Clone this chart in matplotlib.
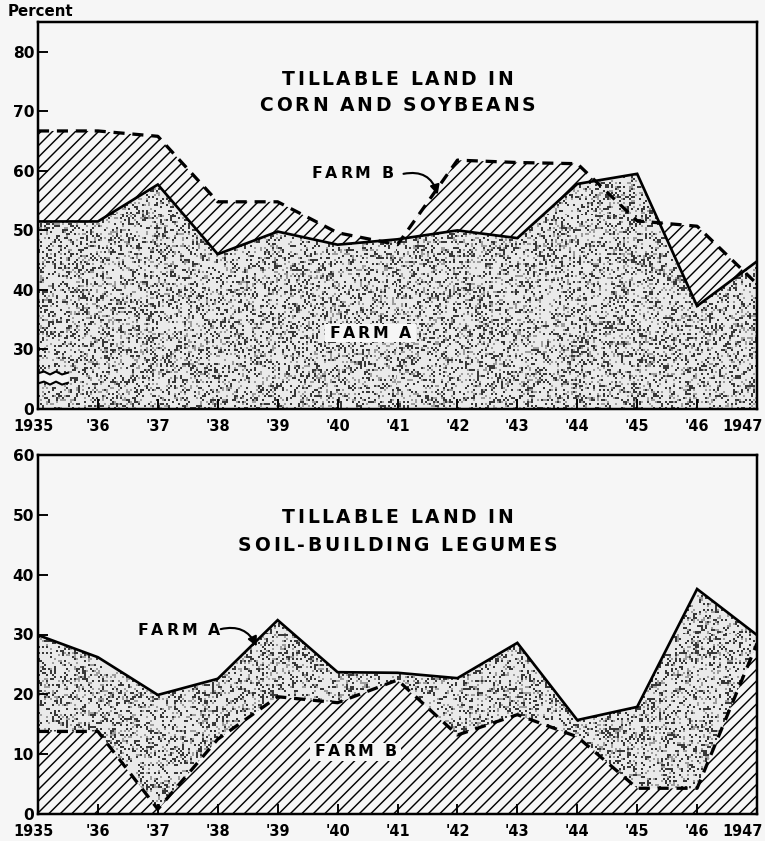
import numpy as np
import matplotlib
matplotlib.use("Agg")
import matplotlib.pyplot as plt
import matplotlib.transforms as mtransforms
from matplotlib.path import Path
from matplotlib.font_manager import FontProperties
from matplotlib.textpath import text_to_path

# ---------------- data ----------------
years = [1935, 1936, 1937, 1938, 1939, 1940, 1941, 1942, 1943, 1944, 1945, 1946, 1947]
year_labels = ["1935", "'36", "'37", "'38", "'39", "'40", "'41", "'42", "'43", "'44", "'45", "'46", "1947"]

# Tillable land in corn and soybeans (percent)
corn_farm_a = [51.5, 51.5, 57.7, 46.0, 49.8, 47.6, 48.5, 50.0, 48.7, 57.8, 59.5, 37.3, 44.8]
corn_farm_b = [66.7, 66.7, 65.8, 54.8, 54.8, 49.6, 47.6, 61.8, 61.4, 61.2, 51.6, 50.7, 41.0]

# Tillable land in soil-building legumes (percent)
leg_farm_a = [29.9, 26.2, 19.9, 22.6, 32.4, 23.7, 23.6, 22.7, 28.6, 15.7, 17.9, 37.6, 29.9]
leg_farm_b = [13.8, 13.8, 0.8, 12.5, 19.6, 18.6, 22.4, 13.2, 16.6, 12.9, 4.3, 4.3, 28.5]

top_yticks = [20, 30, 40, 50, 60, 70, 80]
top_ylabels = ["0", "30", "40", "50", "60", "70", "80"]
bot_yticks = [0, 10, 20, 30, 40, 50, 60]
bot_ylabels = ["0", "10", "20", "30", "40", "50", "60"]

# ---------------- style ----------------
DPI = 138
BG = "#f6f6f6"
plt.rcParams["font.family"] = ["DejaVu Sans"]
plt.rcParams["hatch.linewidth"] = 0.75

fig = plt.figure(figsize=(765 / DPI, 841 / DPI), dpi=DPI, facecolor=BG)
ax1 = fig.add_axes([38 / 765, 1 - 409 / 841, 719 / 765, 387 / 841], facecolor=BG)
ax2 = fig.add_axes([38 / 765, 1 - 814 / 841, 719 / 765, 359 / 841], facecolor=BG)

x = np.array(years, dtype=float)
ca, cb = np.array(corn_farm_a), np.array(corn_farm_b)
la, lb = np.array(leg_farm_a), np.array(leg_farm_b)

LW_SOLID = 1.4
LW_DASH = 1.7
DASH = (0, (3.4, 2.4))
HATCH = "////"


def stipple_texture(w_px, h_px, cell=2, salt=1):
    """Deterministic speckle texture imitating a printing screen."""
    nx, ny = w_px // cell + 1, h_px // cell + 1
    jj, ii = np.meshgrid(np.arange(nx, dtype=np.uint64), np.arange(ny, dtype=np.uint64))
    with np.errstate(over="ignore"):
        h = ii * np.uint64(0x9E3779B97F4A7C15) + jj * np.uint64(0xC2B2AE3D27D4EB4F) + np.uint64(salt)
        h ^= h >> np.uint64(31)
        h *= np.uint64(0xBF58476D1CE4E5B9)
        h ^= h >> np.uint64(27)
        h *= np.uint64(0x94D049BB133111EB)
        h ^= h >> np.uint64(33)
    v = (h % np.uint64(1000)).astype(np.int64)
    img = np.full((ny, nx, 3), 0.92)
    img[v < 190] = 0.22
    img[(v >= 190) & (v < 300)] = 0.62
    return img


def add_stipple(ax, coll, w_px, h_px, salt):
    paths = coll.get_paths()
    if not paths:
        return
    clip = Path.make_compound_path(*paths)
    x0, x1 = ax.get_xlim()
    y0, y1 = ax.get_ylim()
    im = ax.imshow(stipple_texture(w_px, h_px, salt=salt), extent=(x0, x1, y0, y1),
                   aspect="auto", interpolation="nearest", zorder=1,
                   origin="upper")
    im.set_clip_path(clip, ax.transData)
    ax.set_xlim(x0, x1)
    ax.set_ylim(y0, y1)


def tracked_text(ax, x, y, s, size, track_pt, bg=False):
    fp = FontProperties(family="DejaVu Sans", weight="bold", size=size)
    widths = []
    for ch in s:
        w, _, _ = text_to_path.get_text_width_height_descent(ch, fp, ismath=False)
        widths.append(w)
    total = sum(widths) + track_pt * (len(s) - 1)
    if bg:
        pad = 2.5
        hgt = size * 1.15
        tr = (mtransforms.Affine2D().scale(1 / 72.0) + ax.figure.dpi_scale_trans
              + mtransforms.ScaledTranslation(x, y, ax.transData))
        ax.add_patch(plt.Rectangle((-total / 2 - pad, -hgt / 2), total + 2 * pad, hgt,
                                   transform=tr, facecolor=BG, edgecolor="none",
                                   zorder=5))
    pos = -total / 2.0
    for ch, w in zip(s, widths):
        tr = mtransforms.offset_copy(ax.transData, fig=ax.figure, x=pos, y=0,
                                     units="points")
        ax.text(x, y, ch, transform=tr, ha="left", va="center",
                fontproperties=fp, zorder=6)
        pos += w + track_pt
    return total


# ---- top chart ----
ax1.set_xlim(1935, 1947)
ax1.set_ylim(20, 85)
base_a = ax1.fill_between(x, 20, ca, facecolor="none", linewidth=0)
add_stipple(ax1, base_a, 719, 387, salt=7)
ax1.fill_between(x, ca, cb, where=cb >= ca, interpolate=True, facecolor=BG,
                 edgecolor="black", hatch=HATCH, linewidth=0, zorder=1)
ax1.plot(x, ca, color="black", lw=LW_SOLID, zorder=3, solid_joinstyle="miter")
ax1.plot(x, cb, color="black", lw=LW_DASH, ls=DASH, zorder=3)

# axis break marks
bx = np.array([1935.0, 1935.1, 1935.2, 1935.3, 1935.4, 1935.5])
up = np.array([26.0, 26.3, 25.8, 26.3, 25.8, 26.1])
lo = np.array([24.3, 24.6, 24.1, 24.6, 24.1, 24.4])
ax1.fill_between(bx, lo, up, color=BG, zorder=2, lw=0)
ax1.plot(bx, up, color="black", lw=1.1, zorder=3)
ax1.plot(bx, lo, color="black", lw=1.1, zorder=3)

ax1.set_yticks(top_yticks)
ax1.set_yticklabels(top_ylabels)

tracked_text(ax1, 1941.0, 75.3, "TILLABLE LAND IN", 9.8, 1.4)
tracked_text(ax1, 1941.0, 71.0, "CORN AND SOYBEANS", 9.8, 1.4)
tracked_text(ax1, 1940.25, 59.5, "FARM B", 8.2, 1.4)
ax1.annotate("", xy=(1941.67, 56.0), xytext=(1941.1, 59.5),
             arrowprops=dict(arrowstyle="-|>", color="black", lw=1.1,
                             shrinkA=0, shrinkB=0,
                             connectionstyle="arc3,rad=-0.45"), zorder=5)
tracked_text(ax1, 1940.55, 32.7, "FARM A", 8.2, 1.4, bg=True)

# ---- bottom chart ----
ax2.set_xlim(1935, 1947)
ax2.set_ylim(0, 60)
ax2.fill_between(x, 0, lb, facecolor=BG, edgecolor="black", hatch=HATCH,
                 linewidth=0, zorder=1)
band_a = ax2.fill_between(x, lb, la, where=la >= lb, interpolate=True,
                          facecolor="none", linewidth=0)
add_stipple(ax2, band_a, 719, 359, salt=11)
ax2.plot(x, la, color="black", lw=LW_SOLID, zorder=3, solid_joinstyle="miter")
ax2.plot(x, lb, color="black", lw=LW_DASH, ls=DASH, zorder=3)

ax2.set_yticks(bot_yticks)
ax2.set_yticklabels(bot_ylabels)

tracked_text(ax2, 1941.0, 49.6, "TILLABLE LAND IN", 9.8, 1.4)
tracked_text(ax2, 1941.0, 44.8, "SOIL-BUILDING LEGUMES", 9.8, 1.4)
tracked_text(ax2, 1937.35, 30.75, "FARM A", 8.2, 1.4)
ax2.annotate("", xy=(1938.65, 28.0), xytext=(1938.05, 30.9),
             arrowprops=dict(arrowstyle="-|>", color="black", lw=1.1,
                             shrinkA=0, shrinkB=0,
                             connectionstyle="arc3,rad=-0.4"), zorder=5)
tracked_text(ax2, 1940.3, 10.4, "FARM B", 8.2, 1.4, bg=True)

for ax in (ax1, ax2):
    ax.set_xticks(years)
    ax.set_xticklabels(year_labels)
    for s in ax.spines.values():
        s.set_linewidth(1.3)
        s.set_zorder(4)
    ax.tick_params(axis="both", direction="in", length=5.2, width=1.0)
    ax.tick_params(axis="x", pad=5, labelsize=7.6)
    ax.tick_params(axis="y", pad=2, labelsize=8.0)
    labs = ax.get_xticklabels()
    for lab in labs + ax.get_yticklabels():
        lab.set_fontweight("bold")
    labs[0].set_transform(labs[0].get_transform() + mtransforms.ScaledTranslation(-5 / DPI, 0, fig.dpi_scale_trans))
    labs[-1].set_transform(labs[-1].get_transform() + mtransforms.ScaledTranslation(-14 / DPI, 0, fig.dpi_scale_trans))

fig.text(8 / 765, 1 - 12 / 841, "Percent", ha="left", va="center",
         fontsize=7.8, fontweight="bold")

fig.savefig("out.png", dpi=DPI, facecolor=BG)
